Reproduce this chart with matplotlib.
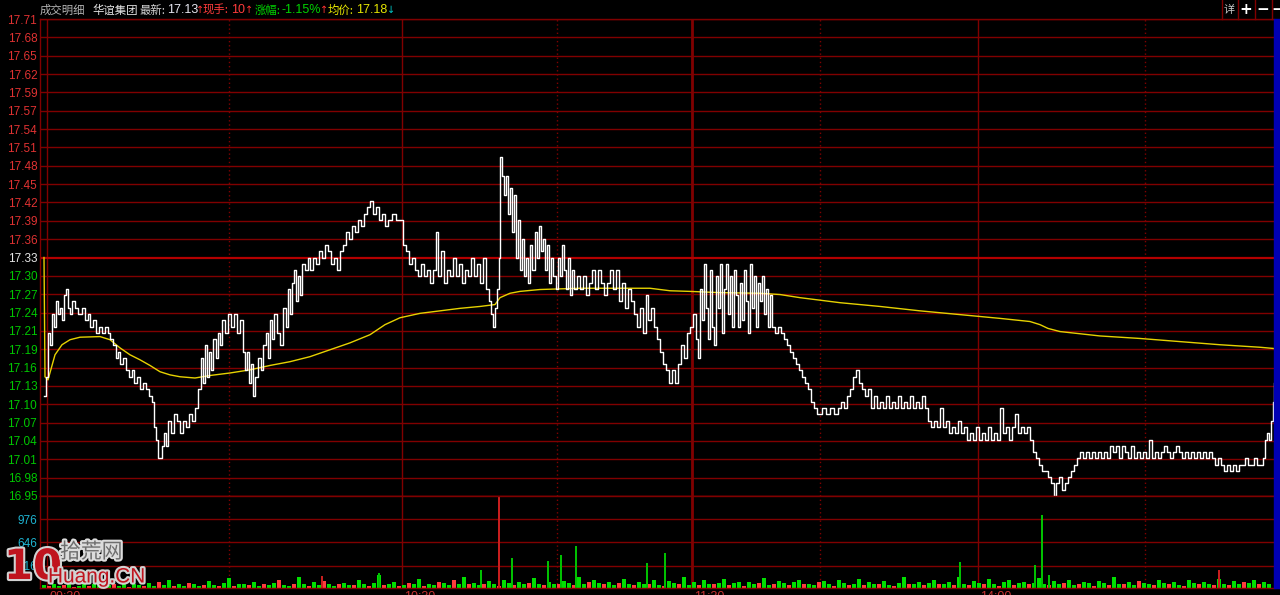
import numpy as np
import matplotlib
matplotlib.use("Agg")
import matplotlib.pyplot as plt
import matplotlib.patheffects as pe
from matplotlib.patches import Rectangle
from matplotlib.transforms import blended_transform_factory

CJK = ["Noto Sans CJK SC", "DejaVu Sans"]
NUM = ["Liberation Sans", "DejaVu Sans"]

PRE_CLOSE = 17.33
Y_MIN, Y_MAX = 16.95, 17.71
X_MIN, X_MAX = 40, 1274

price_labels = ["16.95", "16.98", "17.01", "17.04", "17.07", "17.10", "17.13",
                "17.16", "17.19", "17.21", "17.24", "17.27", "17.30", "17.33",
                "17.36", "17.39", "17.42", "17.45", "17.48", "17.51", "17.54",
                "17.57", "17.59", "17.62", "17.65", "17.68", "17.71"]

vol_ticks = [316, 646, 976]
VOL_MAX = 1306

major_pos = [47, 402, 692, 978]
major_text = ["09:30", "10:30", "11:30", "14:00"]
minor_pos = [229, 557, 820, 1145]

# trade sequence -> price (tick by tick)
trade_seq = [
    44, 46, 48, 50, 52, 54, 56, 58, 60, 62,
    64, 66, 68, 70, 72, 75, 78, 82, 85, 88,
    90, 93, 96, 99, 102, 105, 108, 110, 113, 116,
    118, 120, 123, 126, 129, 132, 134, 137, 140, 143,
    146, 149, 152, 154, 156, 158, 162, 164, 166, 168,
    171, 174, 177, 180, 183, 186, 189, 192, 195, 198,
    201, 203, 205, 207, 209, 211, 213, 216, 218, 220,
    222, 225, 228, 231, 234, 237, 240, 243, 245, 247,
    249, 251, 253, 255, 258, 261, 263, 266, 268, 270,
    272, 274, 277, 280, 283, 286, 288, 290, 292, 294,
    296, 298, 300, 302, 305, 308, 310, 313, 316, 319,
    322, 325, 328, 331, 334, 337, 340, 343, 346, 349,
    352, 355, 358, 361, 364, 367, 370, 373, 376, 379,
    382, 385, 388, 392, 396, 400, 403, 406, 409, 412,
    415, 418, 421, 424, 427, 430, 433, 436, 438, 441,
    444, 447, 450, 453, 456, 459, 462, 465, 468, 471,
    474, 477, 480, 483, 486, 489, 491, 493, 495, 497,
    499, 500, 502, 504, 506, 508, 510, 512, 514, 516,
    518, 520, 522, 524, 526, 528, 530, 532, 535, 537,
    539, 541, 543, 545, 547, 549, 551, 553, 556, 558,
    560, 562, 564, 566, 568, 570, 572, 574, 577, 580,
    583, 586, 589, 592, 595, 598, 601, 604, 607, 610,
    613, 616, 619, 622, 625, 628, 631, 634, 637, 640,
    643, 646, 648, 651, 654, 657, 660, 663, 666, 669,
    672, 675, 678, 681, 684, 687, 690, 693, 696, 698,
    700, 702, 704, 706, 708, 710, 712, 714, 716, 718,
    720, 722, 724, 726, 728, 730, 732, 734, 736, 738,
    740, 742, 744, 746, 748, 750, 752, 754, 756, 758,
    760, 762, 764, 766, 768, 770, 772, 775, 778, 781,
    784, 787, 790, 793, 796, 799, 802, 805, 808, 811,
    814, 817, 822, 826, 830, 834, 838, 841, 844, 847,
    850, 853, 856, 859, 862, 865, 868, 871, 874, 877,
    880, 883, 886, 889, 892, 895, 898, 901, 904, 907,
    910, 913, 916, 919, 922, 925, 928, 931, 934, 937,
    940, 943, 946, 949, 952, 955, 958, 961, 964, 967,
    970, 973, 976, 979, 982, 985, 988, 991, 994, 997,
    1000, 1003, 1006, 1009, 1012, 1015, 1018, 1021, 1024, 1027,
    1030, 1033, 1036, 1039, 1042, 1045, 1048, 1051, 1054, 1056,
    1059, 1062, 1065, 1068, 1071, 1074, 1077, 1080, 1083, 1086,
    1089, 1092, 1095, 1098, 1101, 1104, 1107, 1110, 1113, 1116,
    1119, 1122, 1125, 1128, 1131, 1134, 1137, 1140, 1143, 1146,
    1149, 1152, 1155, 1158, 1161, 1164, 1167, 1170, 1173, 1176,
    1179, 1182, 1185, 1188, 1191, 1194, 1197, 1200, 1203, 1206,
    1209, 1212, 1215, 1218, 1221, 1224, 1227, 1230, 1233, 1236,
    1239, 1242, 1245, 1248, 1251, 1254, 1257, 1260, 1263, 1265,
    1267, 1269, 1271, 1273, 1274,
]
trade_price = [
    17.11, 17.14, 17.21, 17.19, 17.24, 17.22, 17.26, 17.24, 17.25, 17.23,
    17.27, 17.28, 17.25, 17.24, 17.26, 17.25, 17.24, 17.25, 17.23, 17.24,
    17.22, 17.23, 17.21, 17.22, 17.21, 17.22, 17.21, 17.20, 17.19, 17.17,
    17.18, 17.16, 17.17, 17.15, 17.14, 17.15, 17.13, 17.14, 17.12, 17.13,
    17.12, 17.11, 17.10, 17.06, 17.04, 17.01, 17.03, 17.05, 17.03, 17.07,
    17.05, 17.08, 17.07, 17.05, 17.07, 17.06, 17.08, 17.07, 17.09, 17.12,
    17.17, 17.13, 17.19, 17.14, 17.18, 17.15, 17.20, 17.17, 17.21, 17.19,
    17.23, 17.21, 17.24, 17.22, 17.24, 17.21, 17.23, 17.18, 17.15, 17.18,
    17.13, 17.16, 17.11, 17.14, 17.17, 17.15, 17.19, 17.21, 17.17, 17.23,
    17.20, 17.24, 17.21, 17.19, 17.25, 17.22, 17.28, 17.24, 17.29, 17.31,
    17.26, 17.30, 17.27, 17.32, 17.31, 17.33, 17.31, 17.33, 17.32, 17.34,
    17.33, 17.35, 17.34, 17.32, 17.33, 17.31, 17.34, 17.35, 17.37, 17.36,
    17.38, 17.37, 17.39, 17.38, 17.40, 17.41, 17.42, 17.40, 17.41, 17.39,
    17.40, 17.38, 17.39, 17.40, 17.39, 17.39, 17.35, 17.34, 17.32, 17.33,
    17.31, 17.30, 17.32, 17.30, 17.31, 17.29, 17.31, 17.37, 17.30, 17.34,
    17.29, 17.31, 17.30, 17.33, 17.30, 17.32, 17.29, 17.31, 17.30, 17.33,
    17.30, 17.32, 17.29, 17.33, 17.28, 17.26, 17.24, 17.22, 17.25, 17.28,
    17.33, 17.49, 17.46, 17.43, 17.46, 17.40, 17.44, 17.37, 17.43, 17.33,
    17.39, 17.31, 17.36, 17.30, 17.33, 17.29, 17.35, 17.31, 17.37, 17.33,
    17.38, 17.34, 17.36, 17.31, 17.35, 17.29, 17.33, 17.30, 17.28, 17.33,
    17.30, 17.35, 17.31, 17.28, 17.33, 17.27, 17.31, 17.28, 17.30, 17.28,
    17.30, 17.27, 17.29, 17.31, 17.28, 17.31, 17.29, 17.27, 17.29, 17.31,
    17.28, 17.31, 17.26, 17.29, 17.25, 17.28, 17.26, 17.24, 17.22, 17.25,
    17.21, 17.27, 17.23, 17.25, 17.22, 17.20, 17.18, 17.16, 17.15, 17.13,
    17.15, 17.13, 17.16, 17.19, 17.17, 17.21, 17.22, 17.24, 17.20, 17.17,
    17.28, 17.23, 17.32, 17.25, 17.20, 17.31, 17.22, 17.19, 17.30, 17.25,
    17.32, 17.21, 17.28, 17.32, 17.24, 17.30, 17.22, 17.31, 17.27, 17.22,
    17.29, 17.23, 17.31, 17.26, 17.21, 17.32, 17.25, 17.30, 17.22, 17.29,
    17.26, 17.30, 17.24, 17.28, 17.22, 17.27, 17.22, 17.21, 17.22, 17.21,
    17.20, 17.19, 17.18, 17.17, 17.16, 17.15, 17.14, 17.13, 17.12, 17.10,
    17.09, 17.08, 17.09, 17.08, 17.09, 17.08, 17.09, 17.10, 17.09, 17.11,
    17.12, 17.14, 17.15, 17.13, 17.12, 17.11, 17.12, 17.09, 17.11, 17.09,
    17.10, 17.09, 17.11, 17.09, 17.10, 17.09, 17.11, 17.09, 17.10, 17.09,
    17.11, 17.09, 17.10, 17.09, 17.11, 17.09, 17.07, 17.06, 17.07, 17.06,
    17.09, 17.06, 17.07, 17.05, 17.06, 17.05, 17.07, 17.05, 17.06, 17.04,
    17.05, 17.04, 17.06, 17.04, 17.05, 17.04, 17.06, 17.04, 17.05, 17.04,
    17.09, 17.05, 17.06, 17.04, 17.06, 17.08, 17.05, 17.06, 17.05, 17.06,
    17.04, 17.02, 17.01, 17.00, 16.99, 16.99, 16.98, 16.97, 16.95, 16.97,
    16.98, 16.96, 16.97, 16.98, 16.99, 17.00, 17.01, 17.02, 17.01, 17.02,
    17.01, 17.02, 17.01, 17.02, 17.01, 17.02, 17.01, 17.03, 17.02, 17.03,
    17.01, 17.03, 17.02, 17.01, 17.03, 17.01, 17.02, 17.01, 17.02, 17.01,
    17.04, 17.01, 17.02, 17.01, 17.02, 17.03, 17.02, 17.01, 17.02, 17.03,
    17.02, 17.01, 17.02, 17.01, 17.02, 17.01, 17.02, 17.01, 17.02, 17.01,
    17.02, 17.01, 17.00, 17.01, 17.00, 16.99, 17.00, 16.99, 17.00, 16.99,
    17.00, 17.00, 17.01, 17.00, 17.00, 17.01, 17.00, 17.00, 17.01, 17.04,
    17.05, 17.04, 17.07, 17.10, 17.13,
]

# running average price (yellow)
avg_seq = [44, 45, 48, 55, 62, 70, 80, 100, 110, 120, 130, 140, 150, 160, 170,
           180, 195, 210, 230, 250, 270, 290, 310, 330, 350, 370, 385, 400,
           420, 440, 460, 480, 495, 500, 510, 520, 540, 580, 620, 650, 670,
           690, 720, 760, 780, 800, 840, 880, 920, 960, 1000, 1030, 1040,
           1048, 1060, 1100, 1140, 1180, 1220, 1260, 1274]
avg_price = [17.33, 17.14, 17.135, 17.175, 17.191, 17.199, 17.203, 17.204,
             17.199, 17.186, 17.175, 17.167, 17.158, 17.148, 17.143, 17.140,
             17.138, 17.142, 17.146, 17.151, 17.158, 17.164, 17.172, 17.183,
             17.194, 17.207, 17.223, 17.234, 17.241, 17.245, 17.249, 17.252,
             17.255, 17.266, 17.273, 17.276, 17.279, 17.281, 17.281, 17.281,
             17.277, 17.276, 17.274, 17.273, 17.271, 17.266, 17.258, 17.252,
             17.245, 17.239, 17.233, 17.228, 17.223, 17.217, 17.212, 17.205,
             17.201, 17.196, 17.191, 17.187, 17.185]

# volume per slot, + = up tick (red), - = down tick (green)
VOL_START, VOL_STEP = 44, 5
vol_base = [
    -40, 30, -60, -25, 45, -90, 20, -35, -70, 35, -50, -120, 25, -45, 60, -30, -80, 20, -55, -40,
    35, -65, -30, 90, -45, -110, 25, -50, -35, 70, -60, -25, 40, -95, -45, 30, -70, -140, 35, -50,
    -60, 40, -85, -30, 55, -45, -70, 120, -40, -35, 60, -150, -55, 30, -80, -45, 95, -60, -35, 50,
    -75, -40, 45, -110, -55, 30, -65, -180, 40, -50, -90, 35, -45, 70, -60, -130, 30, -55, -40, 85,
    -70, -45, 110, -60, -150, 50, -75, -40, 60, -95, -50, 35, -120, -65, 45, -80, -55, 75, -140, -50,
    40, -90, -60, 55, -100, -70, 45, -160, -60, 80, -110, -75, 60, -90, -45, 70, -130, -55, 40, -85,
    -60, 50, -120, -45, 35, -95, -70, 60, -150, -40, -85, 45, -110, -60, 55, -75, -130, 40, -65, -90,
    35, -80, -55, 70, -140, -45, 50, -100, -65, 40, -85, -120, 55, -60, -45, 80, -95, -50, 35, -110,
    -70, 45, -60, -130, 40, -85, -55, 60, -100, -45, 35, -75, -150, 50, -60, -90, 40, -70, -115, 55,
    -50, -85, 40, -160, -60, 45, -95, -70, 60, -130, -50, 35, -80, -110, 45, -65, -90, 50, -75, -140,
    -60, 40, -95, -55, 70, -120, -45, 50, -85, -65, 35, -100, -70, 45, -150, -55, 60, -80, -45, 95,
    -70, -50, 40, -120, -65, 55, -90, -45, 35, -110, -75, 60, -85, -50, 40, -130, -60, 45, -95, -55,
    80, -70, -120, 60, -90, -50,
]
spike_seq = [322, 379, 481, 499, 512, 548, 561, 576, 647, 665, 960, 1035, 1042, 1049, 1219]
spike_vol = [170, -220, -260, 1400, -420, -380, -470, -590, -360, -500, -370, -320, -1040, -180, 250]

GRID = "#800000"
RED = "#ff3c3c"
GREEN = "#00e000"

fig = plt.figure(figsize=(12.8, 5.95), dpi=100, facecolor="black")
W, H = 1280, 595
ax_p = fig.add_axes([X_MIN / W, (H - 496) / H, (X_MAX - X_MIN) / W, (496 - 19) / H])
ax_v = fig.add_axes([X_MIN / W, (H - 588) / H, (X_MAX - X_MIN) / W, (588 - 496) / H])

for ax in (ax_p, ax_v):
    ax.set_facecolor("black")
    ax.set_xlim(X_MIN, X_MAX)
    ax.set_xticks([])
    for s in ax.spines.values():
        s.set_color(GRID)
        s.set_linewidth(1)
    ax.spines["right"].set_visible(False)
    for x in major_pos:
        lw = 2 if x == 692 else 1
        ax.axvline(x, color=GRID, lw=lw, zorder=1)
    for x in minor_pos:
        ax.axvline(x, color=GRID, lw=1, ls=(0, (1, 2)), zorder=1)
    ax.tick_params(axis="y", length=0, pad=2)

# price panel
yt = np.linspace(Y_MIN, Y_MAX, len(price_labels))
ax_p.set_ylim(Y_MIN, Y_MAX)
ax_p.set_yticks(yt)
ax_p.set_yticklabels(price_labels, fontfamily=NUM, fontsize=8.5)
for lab, v in zip(ax_p.get_yticklabels(), price_labels):
    p = float(v)
    lab.set_color("#e6e6e6" if abs(p - PRE_CLOSE) < 1e-6 else ("#e03232" if p > PRE_CLOSE else "#00c800"))
for v, lab in zip(yt, price_labels):
    if lab == "17.33":
        ax_p.axhline(v, color="#b40000", lw=1.6, zorder=1)
    else:
        ax_p.axhline(v, color=GRID, lw=1, zorder=1)

ax_p.plot(avg_seq, avg_price, color="#e6d200", lw=1, zorder=3)
ax_p.plot(trade_seq, trade_price, color="white", lw=1, drawstyle="steps-post", zorder=4)

# volume panel
ax_v.set_ylim(0, VOL_MAX)
ax_v.set_yticks(vol_ticks)
ax_v.set_yticklabels([str(v) for v in vol_ticks], fontfamily=NUM, fontsize=8.5, color="#1eb4d2")
for v in vol_ticks:
    ax_v.axhline(v, color=GRID, lw=1, zorder=1)

vb = np.array(vol_base)
vx = VOL_START + VOL_STEP * np.arange(len(vb))
ax_v.bar(vx, np.abs(vb), width=4.0, color=[RED if v > 0 else GREEN for v in vb], zorder=2)
sv = np.array(spike_vol)
ax_v.bar(spike_seq, np.abs(sv), width=1.4,
         color=["#c81e1e" if v > 0 else "#00c000" for v in sv], zorder=2)

# time labels (cut off by the window edge)
tr = blended_transform_factory(ax_v.transData, ax_v.transAxes)
for x, t in zip(major_pos, major_text):
    ax_v.text(x + 2, -0.035, t, transform=tr, ha="left", va="top",
              fontsize=9, color="#c83232", fontfamily=NUM, clip_on=False)


# header
def head(x, s, color, family=CJK, size=8.2):
    fig.text(x / W, (H - 10) / H, s, color=color, fontsize=size, va="center",
             ha="left", family=family)


head(40, "成交明细", "#b4b4b4")
head(92, "华谊集团", "#e6e6e6")
head(139, "最新:", "#d2d2d2")
head(167, "17.13", "#e6e6f0", NUM, 9)
head(196, "↑", "#ff3232", ["DejaVu Sans"], 7)
head(203, "现手:", "#ff3c3c")
head(231, "10", "#ff3c3c", NUM, 9)
head(245, "↑", "#ff3232", ["DejaVu Sans"], 7)
head(255, "涨幅:", "#00d200")
head(282, "-1.15%", "#00d200", NUM, 9)
head(320, "↑", "#ff3232", ["DejaVu Sans"], 7)
head(328, "均价:", "#e6e600")
head(356, "17.18", "#e6e600", NUM, 9)
head(387, "↓", "#00c8c8", ["DejaVu Sans"], 7)

for x in (1222, 1238, 1255, 1272):
    fig.add_artist(plt.Line2D([x / W, x / W], [(H - 19) / H, 1], color=GRID, lw=1))
fig.text(1229 / W, (H - 10) / H, "详", color="#c8c8c8", fontsize=8, ha="center", va="center", family=CJK)
fig.text(1246 / W, (H - 10) / H, "+", color="white", fontsize=11, fontweight="bold", ha="center", va="center")
fig.text(1263 / W, (H - 10) / H, "−", color="white", fontsize=11, fontweight="bold", ha="center", va="center")
fig.text(1278 / W, (H - 10) / H, "−", color="white", fontsize=11, fontweight="bold", ha="center", va="center")

# blue scroll bar on the right edge
fig.add_artist(Rectangle((X_MAX / W, (H - 588) / H), (W - X_MAX) / W, (588 - 19) / H,
                         transform=fig.transFigure, color="#0000b4", zorder=5))

# watermark
stroke = [pe.withStroke(linewidth=3, foreground="#d2d2d2")]
fig.text(4 / W, (H - 567) / H, "10", fontsize=30, fontweight="bold",
         color="#c0141e", va="center", ha="left", path_effects=stroke, zorder=10)
fig.text(60 / W, (H - 552) / H, "拾荒网", fontsize=15, color="#6e6e6e", va="center",
         ha="left", family=CJK, path_effects=[pe.withStroke(linewidth=3, foreground="#dcdcdc")], zorder=10)
fig.text(48 / W, (H - 577) / H, "Huang.CN", fontsize=15, color="#c0141e", va="center",
         ha="left", fontfamily=NUM, path_effects=stroke, zorder=10)

fig.savefig("out.png", dpi=100, facecolor="black")
